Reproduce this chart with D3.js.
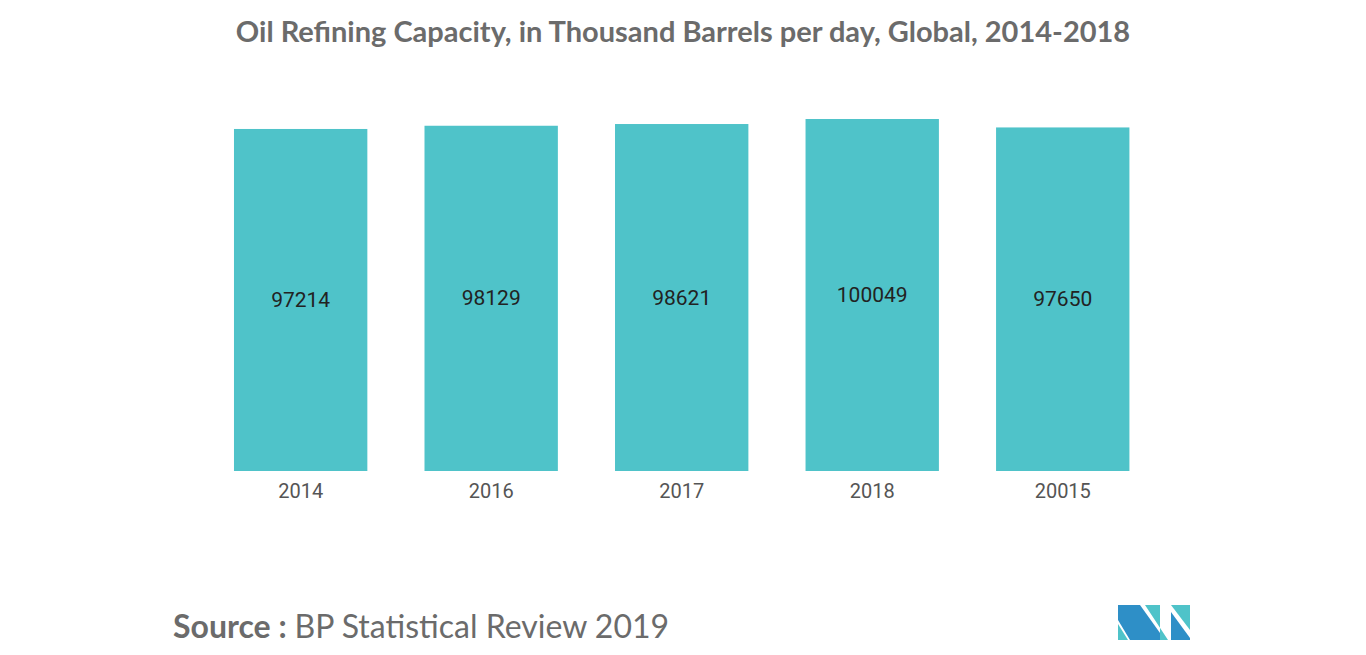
<!DOCTYPE html><html><head><meta charset="utf-8">
<script src="https://cdn.jsdelivr.net/npm/d3@7"></script>
<style>body{margin:0;background:#fff}</style></head><body>
<svg id="c" width="1366" height="655"></svg>
<script>
const categories=["2014","2016","2017","2018","20015"];
const values=[97214,98129,98621,100049,97650];
const svg=d3.select("#c");
const x=d3.scaleBand().domain(categories).range([205.4,1158]).paddingInner(0.3).paddingOuter(0.15);
const y=d3.scaleLinear().domain([0,100049]).range([471,119]);
svg.append("text").attr("x",683).attr("y",42).attr("text-anchor","middle")
 .attr("font-family","Lato").attr("font-weight","bold").attr("font-size",29).attr("fill","#6b6b6b")
 .text("Oil Refining Capacity, in Thousand Barrels per day, Global, 2014-2018");
svg.selectAll("rect.b").data(values).join("rect").attr("class","b")
 .attr("x",(d,i)=>x(categories[i])).attr("width",x.bandwidth())
 .attr("y",d=>y(d)).attr("height",d=>y(0)-y(d)).attr("fill","#4fc3c9");
svg.selectAll("text.v").data(values).join("text").attr("class","v")
 .attr("x",(d,i)=>x(categories[i])+x.bandwidth()/2).attr("y",d=>(y(d)+y(0))/2+7)
 .attr("text-anchor","middle").attr("font-family","Roboto").attr("font-size",21).attr("fill","#222")
 .text(d=>d);
const ax=svg.append("g").attr("transform","translate(0,471)").call(d3.axisBottom(x).tickSize(0).tickPadding(13));
ax.select(".domain").remove();
ax.selectAll("text").attr("font-family","Roboto").attr("font-size",20).attr("fill","#555");
const s=svg.append("text").attr("x",173).attr("y",638).attr("font-family","Lato").attr("font-size",32).attr("fill","#6b6b6b");
s.append("tspan").attr("font-weight","bold").text("Source : ");
s.append("tspan").text("BP Statistical Review 2019");
const lg=svg.append("g");
lg.append("polygon").attr("points","1118,605 1140,605 1165,640 1130,640 1118,620").attr("fill","#2e8fc7");
lg.append("polygon").attr("points","1118,624 1128,640 1118,640").attr("fill","#4fc3c9");
lg.append("polygon").attr("points","1145,605 1160,605 1160,640 1168,640").attr("fill","#4fc3c9");
lg.append("polygon").attr("points","1171,605 1190,605 1190,630").attr("fill","#4fc3c9");
lg.append("polygon").attr("points","1171,612 1190,638 1190,640 1171,640").attr("fill","#2e8fc7");
</script></body></html>
